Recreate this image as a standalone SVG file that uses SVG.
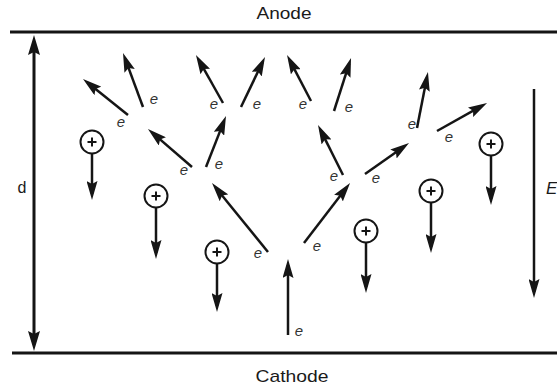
<svg xmlns="http://www.w3.org/2000/svg" width="557" height="390" viewBox="0 0 557 390">
  <style>
    .plate { stroke: #151515; stroke-width: 3; fill: none; }
    .arrow { stroke: #151515; stroke-width: 2.5; fill: none; marker-end: url(#head); }
    .ion circle { fill: #fff; stroke: #151515; stroke-width: 2; }
    .ion .plus { stroke: #151515; stroke-width: 2; }
    .lbl { font-family: "Liberation Sans", Arial, sans-serif; fill: #1a1a1a; }
    .e { font-family: "Liberation Sans", Arial, sans-serif; font-style: italic; font-size: 15px; fill: #333; text-anchor: middle; }
  </style>
  <defs>
    <marker id="head" markerUnits="userSpaceOnUse" viewBox="0 0 19 11" markerWidth="19" markerHeight="11" refX="13" refY="5.5" orient="auto">
      <path d="M0,0 L19,5.5 L0,11 L3,5.5 z" fill="#151515"/>
    </marker>
    <marker id="bighead" markerUnits="userSpaceOnUse" viewBox="0 0 20 12" markerWidth="20" markerHeight="12" refX="13" refY="6" orient="auto-start-reverse">
      <path d="M0,0 L20,6 L0,12 L3,6 z" fill="#151515"/>
    </marker>
  </defs>

  <rect width="557" height="390" fill="#fff"/>

  <!-- electrodes -->
  <g id="anode">
    <line class="plate" x1="10" y1="32" x2="557" y2="32"/>
    <text class="lbl" x="284" y="19" font-size="16" text-anchor="middle" textLength="55" lengthAdjust="spacingAndGlyphs">Anode</text>
  </g>
  <g id="cathode">
    <line class="plate" x1="12" y1="353" x2="557" y2="353"/>
    <text class="lbl" x="292" y="382" font-size="17" text-anchor="middle" textLength="73" lengthAdjust="spacingAndGlyphs">Cathode</text>
  </g>

  <!-- gap distance -->
  <g id="gap">
    <line x1="34" y1="42" x2="34" y2="344" stroke="#151515" stroke-width="3" marker-start="url(#bighead)" marker-end="url(#bighead)"/>
    <text class="lbl" x="22" y="193" font-size="16" text-anchor="middle">d</text>
  </g>

  <!-- field direction -->
  <g id="field">
    <line class="arrow" x1="534" y1="89" x2="534" y2="292"/>
    <text class="lbl" x="546" y="194" font-size="17" font-style="italic">E</text>
  </g>

  <!-- electron paths of the avalanche -->
  <g id="electrons">
    <line class="arrow" x1="288" y1="335" x2="288" y2="265"/>
    <line class="arrow" x1="268" y1="252" x2="215.8" y2="187.7"/>
    <line class="arrow" x1="304" y1="243" x2="346.4" y2="187.8"/>
    <line class="arrow" x1="192" y1="167" x2="152.5" y2="132.9"/>
    <line class="arrow" x1="206" y1="167" x2="223.8" y2="121.6"/>
    <line class="arrow" x1="343" y1="175" x2="320.7" y2="130.4"/>
    <line class="arrow" x1="365" y1="174" x2="404.1" y2="146.5"/>
    <line class="arrow" x1="128" y1="115" x2="87.7" y2="82.8"/>
    <line class="arrow" x1="143" y1="107" x2="125.1" y2="58.6"/>
    <line class="arrow" x1="223" y1="103" x2="198.9" y2="60.2"/>
    <line class="arrow" x1="241" y1="107" x2="262.4" y2="62.4"/>
    <line class="arrow" x1="311" y1="101" x2="289.8" y2="60.3"/>
    <line class="arrow" x1="334" y1="111" x2="349.2" y2="63.7"/>
    <line class="arrow" x1="417" y1="128" x2="426.8" y2="77.9"/>
    <line class="arrow" x1="437" y1="131" x2="481.8" y2="105.9"/>
  </g>

  <g id="electron-labels">
    <text class="e" x="299" y="336">e</text>
    <text class="e" x="258" y="258">e</text>
    <text class="e" x="317" y="251">e</text>
    <text class="e" x="184" y="175">e</text>
    <text class="e" x="219" y="169">e</text>
    <text class="e" x="334" y="181">e</text>
    <text class="e" x="376" y="183">e</text>
    <text class="e" x="121" y="127">e</text>
    <text class="e" x="154" y="104">e</text>
    <text class="e" x="214" y="109">e</text>
    <text class="e" x="257" y="109">e</text>
    <text class="e" x="303" y="109">e</text>
    <text class="e" x="349" y="112">e</text>
    <text class="e" x="412" y="129">e</text>
    <text class="e" x="449" y="142">e</text>
  </g>

  <!-- positive ions drifting to the cathode -->
  <g id="ion1" class="ion">
    <line class="arrow" x1="92" y1="153.5" x2="92" y2="194"/>
    <circle cx="92" cy="142" r="11.5"/>
    <path class="plus" d="M87.5,142 H96.5 M92,137.5 V146.5"/>
  </g>
  <g id="ion2" class="ion">
    <line class="arrow" x1="156" y1="207.5" x2="156" y2="253"/>
    <circle cx="156" cy="196" r="11.5"/>
    <path class="plus" d="M151.5,196 H160.5 M156,191.5 V200.5"/>
  </g>
  <g id="ion3" class="ion">
    <line class="arrow" x1="217" y1="263.5" x2="217" y2="306"/>
    <circle cx="217" cy="252" r="11.5"/>
    <path class="plus" d="M212.5,252 H221.5 M217,247.5 V256.5"/>
  </g>
  <g id="ion4" class="ion">
    <line class="arrow" x1="366" y1="242.5" x2="366" y2="287"/>
    <circle cx="366" cy="231" r="11.5"/>
    <path class="plus" d="M361.5,231 H370.5 M366,226.5 V235.5"/>
  </g>
  <g id="ion5" class="ion">
    <line class="arrow" x1="431" y1="202.5" x2="431" y2="247"/>
    <circle cx="431" cy="191" r="11.5"/>
    <path class="plus" d="M426.5,191 H435.5 M431,186.5 V195.5"/>
  </g>
  <g id="ion6" class="ion">
    <line class="arrow" x1="491" y1="155.5" x2="491" y2="199"/>
    <circle cx="491" cy="144" r="11.5"/>
    <path class="plus" d="M486.5,144 H495.5 M491,139.5 V148.5"/>
  </g>
</svg>
